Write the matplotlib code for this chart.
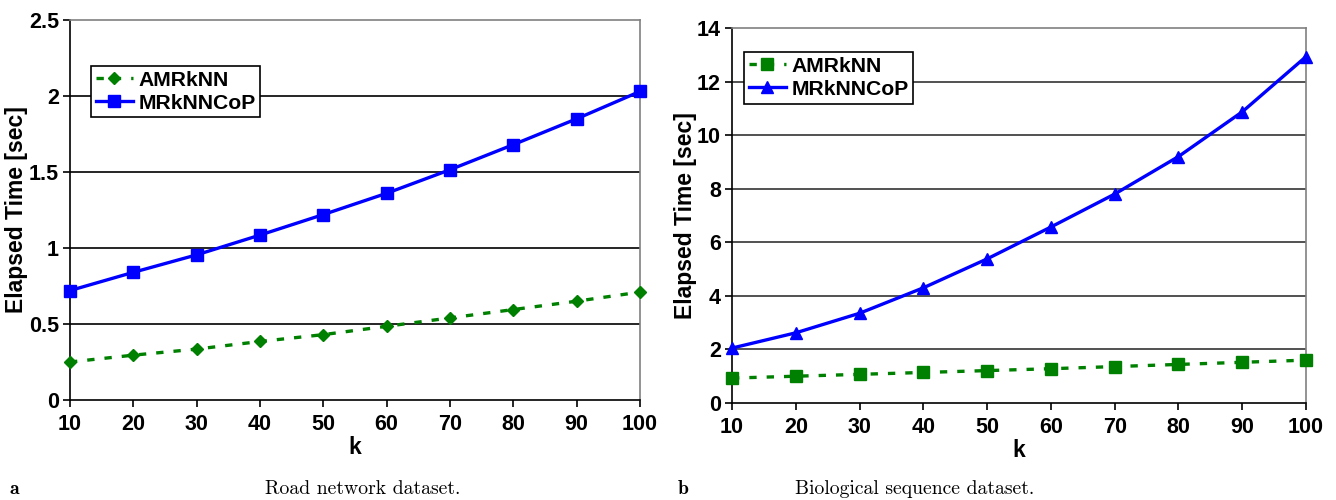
import numpy as np
import matplotlib.pyplot as plt

k = [10, 20, 30, 40, 50, 60, 70, 80, 90, 100]

# (a) road network
road_amrknn = [0.25, 0.295, 0.335, 0.385, 0.43, 0.485, 0.54, 0.595, 0.65, 0.71]
road_mrknncop = [0.72, 0.84, 0.955, 1.085, 1.22, 1.36, 1.515, 1.68, 1.85, 2.03]

# (b) biological sequences
bio_amrknn = [0.93, 1.0, 1.07, 1.14, 1.21, 1.28, 1.36, 1.44, 1.52, 1.60]
bio_mrknncop = [2.05, 2.62, 3.35, 4.3, 5.38, 6.57, 7.8, 9.2, 10.87, 12.93]

tick_font = dict(family=['Liberation Sans', 'DejaVu Sans'], weight='bold', size=15.5)
lab_font = dict(family=['Liberation Sans', 'DejaVu Sans'], weight='bold', size=16.5)

fig = plt.figure(figsize=(13.36, 5), dpi=100)
ax1 = fig.add_axes([70/1336, 0.2, 570/1336, 0.76])
ax2 = fig.add_axes([732/1336, 0.194, 574/1336, 0.75])


def style(ax, ylim, yticks, gridcol, labx):
    ax.set_xlim(10, 100)
    ax.set_ylim(*ylim)
    ax.set_xticks(k)
    ax.set_yticks(yticks)
    ax.set_xticklabels([str(v) for v in k], fontdict=tick_font)
    ax.set_yticklabels([f"{v:g}" for v in yticks], fontdict=tick_font)
    for y in yticks[1:-1]:
        ax.axhline(y, color=gridcol, lw=1.2, zorder=0)
    ax.spines['left'].set_color('black')
    ax.spines['bottom'].set_color('black')
    ax.spines['top'].set_color('#808080')
    ax.spines['right'].set_color('#808080')
    for s in ax.spines.values():
        s.set_linewidth(1.2)
    ax.tick_params(direction='out', length=5, width=1.2, pad=3)
    ax.tick_params(axis='x', pad=5)
    ax.set_xlabel('k', fontdict=lab_font, labelpad=1)
    ax.set_ylabel('Elapsed Time [sec]', fontdict=lab_font)
    ax.yaxis.label.set_va('center')
    ax.yaxis.set_label_coords(labx, 0.5)


ax1.plot(k, road_amrknn, color='#008000', ls=(0, (2.2, 3)), lw=2.4, marker='D', ms=6.5,
         label='AMRkNN', clip_on=False, zorder=3)
ax1.plot(k, road_mrknncop, color='#0000FF', ls='-', lw=2.4, marker='s', ms=8.5,
         label='MRkNNCoP', clip_on=False, zorder=3)
style(ax1, (0, 2.5), [0, 0.5, 1, 1.5, 2, 2.5], 'black', -0.094)

ax2.plot(k, bio_amrknn, color='#008000', ls=(0, (2.2, 3)), lw=2.4, marker='s', ms=8,
         label='AMRkNN', clip_on=False, zorder=3)
ax2.plot(k, bio_mrknncop, color='#0000FF', ls='-', lw=2.4, marker='^', ms=8,
         label='MRkNNCoP', clip_on=False, zorder=3)
style(ax2, (0, 14), [0, 2, 4, 6, 8, 10, 12, 14], '#333333', -0.081)

for ax, loc in [(ax1, (0.037, 0.879)), (ax2, (0.021, 0.936))]:
    leg = ax.legend(loc='upper left', bbox_to_anchor=loc, fancybox=False, framealpha=1,
                    edgecolor='black', prop=dict(family='Liberation Sans', weight='bold', size=15.2),
                    handlelength=1.75, handletextpad=0.28, borderpad=0.22, labelspacing=0.2,
                    borderaxespad=0)
    leg.get_frame().set_linewidth(1.2)

cap = dict(family='cmr10', size=14.2)
fig.text(10/1336, 0.012, 'a', family='cmb10', size=14.2, weight='bold')
fig.text(363/1336, 0.012, 'Road network dataset.', ha='center', **cap)
fig.text(678/1336, 0.012, 'b', family='cmb10', size=14.2, weight='bold')
fig.text(915/1336, 0.012, 'Biological sequence dataset.', ha='center', **cap)

fig.savefig('out.png', dpi=100)
